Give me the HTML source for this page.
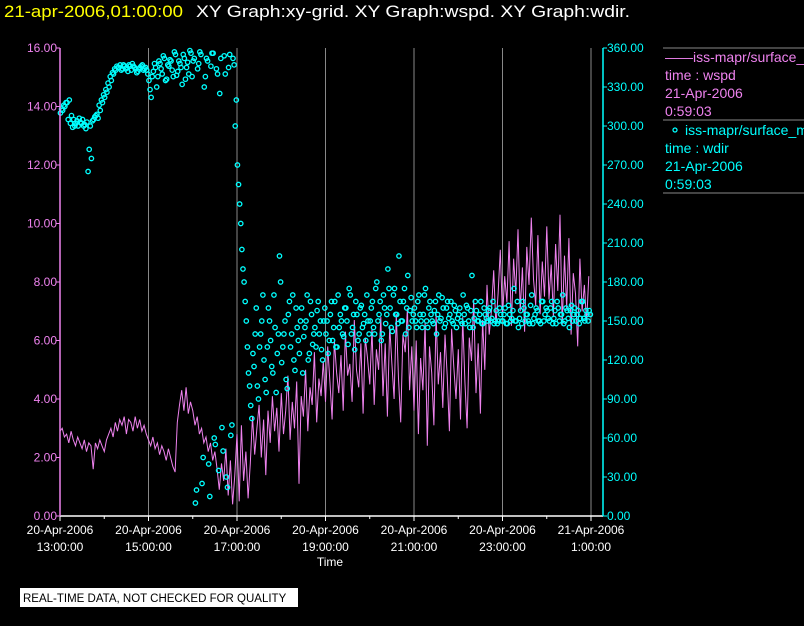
<!DOCTYPE html>
<html><head><meta charset="utf-8"><style>
html,body{margin:0;padding:0;background:#000;}
body{width:804px;height:626px;overflow:hidden;position:relative;font-family:"Liberation Sans",sans-serif;}
svg{position:absolute;left:0;top:0;}
text{font-family:"Liberation Sans",sans-serif;}
</style></head><body>
<svg id="chart" width="804" height="626">
<text x="4" y="17" font-size="17" fill="#ffff00" textLength="179" lengthAdjust="spacingAndGlyphs">21-apr-2006,01:00:00</text>
<text x="196" y="17" font-size="17" fill="#ffffff" textLength="434" lengthAdjust="spacingAndGlyphs">XY Graph:xy-grid.  XY Graph:wspd.  XY Graph:wdir.</text>
<g id="grid"></g>
<g id="wspd"></g>
<g id="wdir"></g>
<g id="axes"></g>
<g>
<line x1="663" y1="48" x2="804" y2="48" stroke="#888"/>
<text x="665" y="62" font-size="14" fill="#ee82ee">——iss-mapr/surface_m</text>
<text x="665" y="80" font-size="14" fill="#ee82ee">time : wspd</text>
<text x="665" y="98" font-size="14" fill="#ee82ee">21-Apr-2006</text>
<text x="665" y="116" font-size="14" fill="#ee82ee">0:59:03</text>
<line x1="663" y1="120" x2="804" y2="120" stroke="#888"/>
<circle cx="675" cy="130" r="2" fill="none" stroke="#00ffff" stroke-width="1.3"/>
<text x="685" y="135" font-size="14" fill="#00ffff">iss-mapr/surface_m</text>
<text x="665" y="153" font-size="14" fill="#00ffff">time : wdir</text>
<text x="665" y="171" font-size="14" fill="#00ffff">21-Apr-2006</text>
<text x="665" y="189" font-size="14" fill="#00ffff">0:59:03</text>
<line x1="663" y1="193" x2="804" y2="193" stroke="#888"/>
</g>
<rect x="20" y="588" width="278" height="19" fill="#fff"/>
<text x="23" y="602" font-size="11.5" fill="#000">REAL-TIME DATA, NOT CHECKED FOR QUALITY</text>
</svg>
<script>
const xTickLabels1=["20-Apr-2006","20-Apr-2006","20-Apr-2006","20-Apr-2006","20-Apr-2006","20-Apr-2006","21-Apr-2006"];
const xTickLabels2=["13:00:00","15:00:00","17:00:00","19:00:00","21:00:00","23:00:00","1:00:00"];
const xTickHours=[0,2,4,6,8,10,12];
const leftTicks=[0,2,4,6,8,10,12,14,16];
const rightTicks=[0,30,60,90,120,150,180,210,240,270,300,330,360];
const stepHours=0.05;
const wspd=[2.9,3.0,2.7,2.8,2.5,2.9,2.6,2.4,2.7,2.5,2.3,2.6,2.2,2.5,2.4,1.6,2.5,2.3,2.6,2.4,
2.2,2.6,2.8,3.0,2.7,3.2,2.9,3.3,3.1,3.4,2.8,3.3,3.2,2.9,3.4,3.0,3.3,2.9,3.1,2.8,
2.6,2.4,2.7,2.3,2.5,2.1,2.4,2.2,1.9,2.3,2.0,1.7,1.5,3.2,3.8,4.3,3.6,4.4,3.5,3.9,
3.6,3.1,3.4,2.8,3.0,2.5,2.7,2.2,2.5,1.9,2.2,1.6,0.9,1.8,1.2,2.3,0.7,1.9,0.4,1.4,
2.8,0.5,3.1,1.2,2.2,0.6,1.8,3.4,2.1,3.0,3.8,2.0,3.3,1.4,3.6,2.5,4.1,2.9,3.7,2.2,
4.2,2.8,3.6,4.8,2.6,3.9,3.0,4.6,1.1,4.1,3.4,5.0,2.9,4.4,3.8,5.6,3.2,4.7,4.1,5.3,
3.9,5.8,4.6,3.3,6.0,4.9,4.2,5.5,3.6,6.3,4.8,5.2,3.9,6.7,5.0,4.4,5.9,3.5,6.1,5.4,
4.5,6.4,3.8,5.7,5.0,6.8,4.1,5.9,3.4,6.5,5.2,4.0,6.9,4.7,3.2,6.2,5.6,7.1,4.3,5.8,
3.6,6.0,2.8,5.4,4.3,6.6,2.4,5.8,4.9,3.1,6.9,4.5,5.6,3.7,6.2,4.8,2.9,6.4,5.1,4.0,
5.7,3.3,6.8,4.6,3.0,6.1,5.3,7.4,4.2,5.9,3.5,6.7,5.0,7.9,6.2,7.0,8.4,6.5,7.6,9.1,
6.8,8.2,7.3,9.4,6.5,8.8,7.6,9.8,7.0,8.5,6.3,9.2,7.9,10.2,8.1,7.2,9.6,6.9,8.7,7.5,
9.9,7.4,8.6,6.8,9.3,7.7,10.3,6.5,8.9,7.1,9.5,6.2,8.3,7.6,5.8,8.8,7.0,7.9,6.6,8.2];
const wdir=[310,312,315,318,320,308,305,302,300,303,305,301,303,282,275,305,308,306,312,318,
322,326,330,335,340,343,345,347,344,346,345,347,343,346,344,342,345,347,344,343,
335,322,342,345,338,348,340,352,336,346,350,338,355,342,348,332,352,345,340,356,
350,10,344,357,25,330,352,40,346,356,55,340,325,68,354,30,345,62,352,300,
270,240,205,180,150,110,85,125,140,100,130,150,120,95,160,135,110,145,125,200,
118,140,105,155,130,170,112,145,125,160,138,150,120,165,132,145,158,140,128,150,
140,125,155,135,165,130,145,150,138,160,132,170,145,128,155,140,162,148,135,150,
150,165,140,180,155,135,170,148,190,160,142,175,155,200,150,165,140,185,158,150,
160,145,170,150,155,175,145,165,150,158,140,170,152,160,148,165,155,150,162,145,
155,150,170,148,160,145,185,152,158,150,165,148,155,150,160,152,148,158,150,155,
150,160,148,155,152,175,150,145,158,165,150,155,148,170,152,160,150,148,165,155,
158,150,165,152,148,160,155,170,150,158,145,162,155,150,158,152,165,150,155,158];
const wdir2=[313,316,318,305,302,299,300,304,306,302,300,298,265,300,304,307,309,316,320,324,
328,333,338,341,344,346,345,343,347,344,342,346,348,345,341,344,346,343,345,340,
328,338,348,330,350,344,354,335,347,351,343,357,339,350,345,355,336,349,358,338,
352,20,348,355,45,338,350,15,356,60,344,35,352,50,340,22,355,70,347,320,
255,225,190,165,130,100,75,115,160,90,140,170,105,130,150,115,170,95,140,180,
130,150,98,165,140,120,160,135,150,110,145,170,125,155,140,130,165,150,120,160,
150,135,165,145,130,170,155,140,160,150,175,140,155,165,135,160,145,155,170,140,
160,145,175,150,165,140,160,155,175,145,170,155,148,165,150,175,160,145,168,155,
150,165,155,145,170,150,160,155,148,165,155,150,168,145,160,152,165,148,158,152,
160,148,155,162,150,158,145,165,150,155,148,160,152,158,150,165,150,148,160,150,
155,148,162,150,158,150,165,152,148,160,155,150,162,148,155,158,150,165,150,160,
152,160,148,158,165,150,155,148,160,152,158,150,160,155,148,165,152,158,150,155];

const NS="http://www.w3.org/2000/svg";
const X0=60,X1=591,Y0=516,Y1=48,RX=603;
function xs(h){return X0+(X1-X0)*h/12;}
function yl(v){return Y0-(Y0-Y1)*v/16;}
function yr(v){return Y0-(Y0-Y1)*v/360;}
function mk(tag,attrs,parent){const e=document.createElementNS(NS,tag);for(const k in attrs)e.setAttribute(k,attrs[k]);parent.appendChild(e);return e;}
const grid=document.getElementById('grid'),axes=document.getElementById('axes');
xTickHours.forEach((h,i)=>{
  if(i>0){const g=mk('line',{x1:xs(h),y1:Y1,x2:xs(h),y2:Y0,stroke:'#888'},grid);
  
  }
  const t1=mk('text',{x:xs(h),y:534,'font-size':12,fill:'#fff','text-anchor':'middle'},axes);t1.textContent=xTickLabels1[i];
  
  
  const t2=mk('text',{x:xs(h),y:551,'font-size':12,fill:'#fff','text-anchor':'middle'},axes);t2.textContent=xTickLabels2[i];
  
  
  mk('line',{x1:xs(h),y1:Y0,x2:xs(h),y2:Y0+5,stroke:'#fff'},axes);
  if(h<12)mk('line',{x1:xs(h+1),y1:Y0,x2:xs(h+1),y2:Y0+3,stroke:'#fff'},axes);
});
const xt=mk('text',{x:330,y:566,'font-size':12,fill:'#fff','text-anchor':'middle'},axes);xt.textContent='Time';


mk('line',{x1:X0,y1:Y0,x2:RX,y2:Y0,stroke:'#fff','stroke-width':1.5},axes);
mk('line',{x1:X0,y1:Y1,x2:X0,y2:Y0,stroke:'#ee82ee','stroke-width':1.5},axes);
mk('line',{x1:RX,y1:Y1,x2:RX,y2:Y0,stroke:'#00ffff','stroke-width':1.5},axes);
leftTicks.forEach(v=>{mk('line',{x1:X0-4,y1:yl(v),x2:X0,y2:yl(v),stroke:'#ee82ee'},axes);
  const t=mk('text',{x:X0-3,y:yl(v)+4,'font-size':12,fill:'#ee82ee','text-anchor':'end'},axes);t.textContent=v.toFixed(2);
  
  });
rightTicks.forEach(v=>{mk('line',{x1:RX,y1:yr(v),x2:RX+4,y2:yr(v),stroke:'#00ffff'},axes);
  const t=mk('text',{x:RX+4,y:yr(v)+4,'font-size':12,fill:'#00ffff'},axes);t.textContent=v.toFixed(2);
  
  });
const pts=wspd.map((v,i)=>xs(i*stepHours).toFixed(1)+','+yl(v).toFixed(1)).join(' ');
const pl=mk('polyline',{points:pts,fill:'none',stroke:'#ee82ee','stroke-width':1},document.getElementById('wspd'));


const wg=document.getElementById('wdir');
wdir.forEach((v,i)=>{const c=mk('circle',{cx:xs(i*stepHours+0.01),cy:yr(v),r:2.2,fill:'none',stroke:'#00ffff','stroke-width':1.3},wg);
  
  });
wdir2.forEach((v,i)=>{const c=mk('circle',{cx:xs(i*stepHours+0.035),cy:yr(v),r:2.2,fill:'none',stroke:'#00ffff','stroke-width':1.3},wg);
  
  });
</script>
</body></html>
